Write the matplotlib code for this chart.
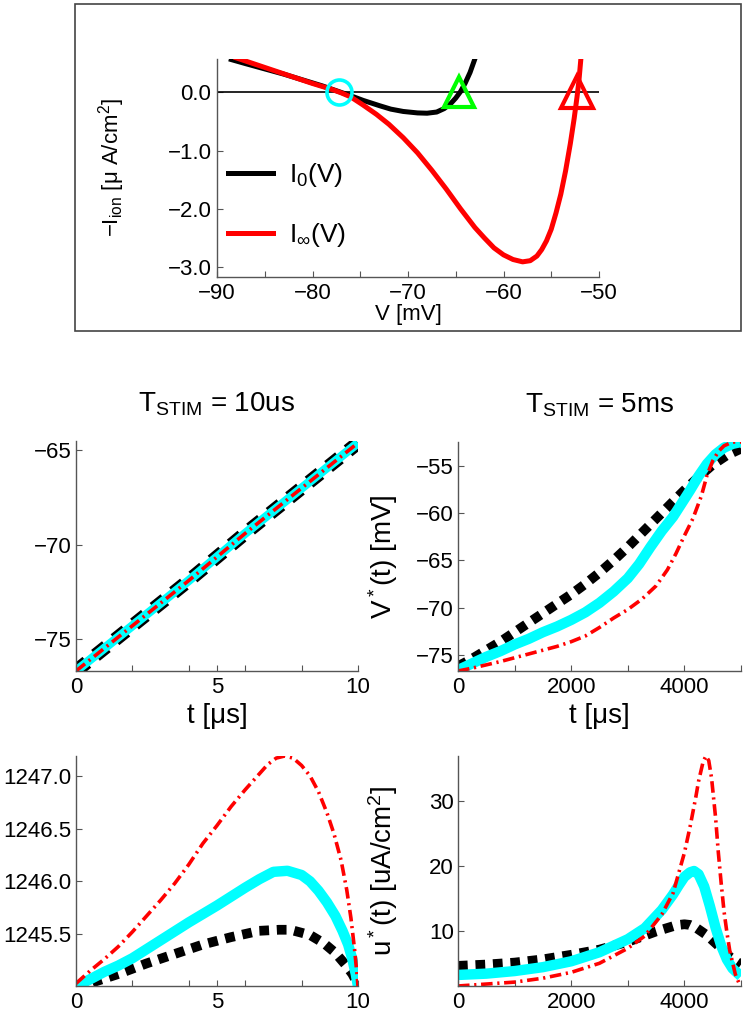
import matplotlib
matplotlib.use("Agg")
import matplotlib.pyplot as plt
import matplotlib.ticker as mticker
from matplotlib.patches import Rectangle

plt.rcParams["font.family"] = ["Liberation Sans", "DejaVu Sans"]
plt.rcParams["mathtext.fontset"] = "custom"
plt.rcParams["mathtext.rm"] = "Liberation Sans"
plt.rcParams["mathtext.it"] = "Liberation Sans:italic"
plt.rcParams["mathtext.bf"] = "Liberation Sans:bold"

# --- top panel: I-V curves ---
v_i0 = [-88.5, -87, -85, -83, -81, -79, -77.4, -76, -74.7, -73, -71.8, -70.5,
        -69, -68, -67, -66.2, -65.5, -65, -64.5, -64, -63.5, -63.0]
i_i0 = [0.56, 0.49, 0.40, 0.31, 0.21, 0.11, 0.02, -0.06, -0.14, -0.23, -0.29, -0.33,
        -0.355, -0.36, -0.34, -0.28, -0.19, -0.10, 0.01, 0.16, 0.34, 0.57]
v_iinf = [-88.0, -86, -84, -82, -80, -78, -77, -76, -74.7, -73.3, -72, -70.5, -69,
          -67.5, -66, -64.5, -63, -62, -61, -60, -59, -58, -57.2, -56.5, -56, -55.5,
          -55, -54.5, -54, -53.5, -53.0, -52.6, -52.3, -52.1, -51.9]
i_iinf = [0.59, 0.48, 0.37, 0.26, 0.15, 0.05, -0.01, -0.08, -0.22, -0.38, -0.55, -0.78,
          -1.04, -1.34, -1.66, -2.0, -2.32, -2.5, -2.67, -2.79, -2.87, -2.91, -2.89,
          -2.81, -2.7, -2.55, -2.35, -2.07, -1.75, -1.35, -0.88, -0.45, -0.08, 0.2, 0.57]
v_rest = -77.2
v_thr_i0 = -64.7
v_thr_iinf = -52.3

# --- middle row: V*(t) ---
t_short = [0, 2, 4, 6, 8, 10]
v_short_black = [-76.7, -74.3, -71.9, -69.4, -67.0, -64.6]
v_short_cyan = [-76.7, -74.3, -71.9, -69.4, -67.0, -64.6]
v_short_red = [-76.7, -74.3, -71.9, -69.4, -67.0, -64.6]

t_long_black = [0, 250, 500, 750, 1000, 1250, 1500, 1750, 2000, 2250, 2500, 2750, 3000,
                3250, 3500, 3750, 4000, 4250, 4500, 4750, 5000]
v_long_black = [-76.2, -75.4, -74.5, -73.6, -72.6, -71.6, -70.6, -69.6, -68.6, -67.5,
                -66.3, -65.0, -63.6, -62.1, -60.6, -59.1, -57.6, -56.2, -54.9, -53.9,
                -53.2]
t_long_cyan = [0, 250, 500, 750, 1000, 1250, 1500, 1750, 2000, 2250, 2500, 2750, 3000,
               3200, 3400, 3600, 3800, 3950, 4100, 4250, 4400, 4550, 4700, 4850, 5000]
v_long_cyan = [-76.6, -75.9, -75.2, -74.6, -73.9, -73.3, -72.6, -72.0, -71.3, -70.5,
               -69.5, -68.3, -66.9, -65.4, -63.6, -61.9, -60.4, -59.0, -57.6, -56.1,
               -54.8, -53.8, -53.1, -52.7, -52.5]
t_long_red = [0, 250, 500, 750, 1000, 1250, 1500, 1750, 2000, 2250, 2500, 2750, 3000,
              3250, 3500, 3700, 3850, 4000, 4150, 4300, 4400, 4500, 4600, 4700, 4850, 5000]
v_long_red = [-76.7, -76.4, -76.05, -75.7, -75.3, -74.9, -74.5, -74.1, -73.6, -73.0,
              -72.1, -71.1, -70.2, -69.1, -67.7, -66.0, -64.3, -62.4, -60.6, -58.2,
              -56.0, -54.5, -53.5, -52.9, -52.5, -52.5]

# --- bottom row: u*(t) ---
t_u_black = [0, 0.7, 1.5, 2.5, 3.5, 4.5, 5.5, 6.5, 7.2, 7.6, 8.3, 8.8, 9.2, 9.55, 9.8, 10]
u_short_black = [1244.98, 1245.05, 1245.12, 1245.22, 1245.31, 1245.40, 1245.47, 1245.53,
                 1245.54, 1245.54, 1245.49, 1245.41, 1245.32, 1245.21, 1245.12, 1245.02]
t_u_cyan = [0, 0.5, 1, 1.5, 2, 3, 4, 5, 6, 6.5, 7, 7.5, 8, 8.3, 8.6, 8.9, 9.2, 9.45,
            9.65, 9.8, 9.92, 10]
u_short_cyan = [1245.0, 1245.07, 1245.14, 1245.2, 1245.27, 1245.44, 1245.61, 1245.77,
                1245.94, 1246.02, 1246.09, 1246.1, 1246.06, 1246.0, 1245.91, 1245.8,
                1245.67, 1245.53, 1245.4, 1245.26, 1245.12, 1245.0]
t_u_red = [0, 0.5, 1, 1.5, 2, 2.5, 3, 3.5, 4, 4.5, 5, 5.5, 6, 6.5, 6.8, 7.1, 7.4, 7.7,
           8, 8.3, 8.6, 8.9, 9.15, 9.4, 9.6, 9.75, 9.88, 9.97, 10]
u_short_red = [1245.03, 1245.15, 1245.26, 1245.38, 1245.52, 1245.67, 1245.82, 1245.98,
               1246.16, 1246.36, 1246.53, 1246.71, 1246.87, 1247.02, 1247.11, 1247.17,
               1247.19, 1247.17, 1247.10, 1247.0, 1246.85, 1246.65, 1246.45, 1246.2,
               1245.92, 1245.65, 1245.35, 1245.1, 1245.0]

t_ul_black = [0, 500, 1000, 1500, 2000, 2500, 3000, 3500, 3800, 3900, 4000, 4100, 4200,
              4400, 4600, 4800, 5000]
u_long_black = [4.6, 4.8, 5.1, 5.6, 6.3, 7.1, 8.3, 9.9, 10.7, 10.9, 11.0, 10.9, 10.5,
                9.3, 7.7, 6.0, 4.8]
t_ul_cyan = [0, 500, 1000, 1500, 2000, 2500, 3000, 3300, 3600, 3800, 3900, 4000, 4100,
             4170, 4250, 4350, 4450, 4550, 4650, 4750, 4850, 5000]
u_long_cyan = [3.2, 3.4, 3.8, 4.4, 5.3, 6.7, 8.7, 10.4, 13.2, 15.6, 17.0, 18.3, 19.0,
               19.2, 18.7, 16.8, 13.8, 10.5, 7.7, 5.6, 4.2, 3.0]
t_ul_red = [0, 500, 1000, 1500, 2000, 2500, 3000, 3300, 3600, 3800, 4000, 4100, 4200,
            4250, 4330, 4380, 4430, 4480, 4550, 4600, 4650, 4700, 4750, 4800, 4900, 5000]
u_long_red = [1.5, 1.8, 2.1, 2.7, 3.6, 5.0, 7.3, 9.2, 12.5, 15.8, 22.0, 26.0, 30.5,
              33.0, 36.0, 36.9, 36.2, 33.5, 27.5, 22.0, 17.3, 13.0, 9.8, 7.0, 3.3, 1.2]

SPINE = "#555555"
W, H = 745, 1015


def px_axes(fig, left, top, right, bottom):
    return fig.add_axes([left / W, 1 - bottom / H, (right - left) / W, (bottom - top) / H])


def style(ax, pad_x=4, pad_y=3):
    for s in ["top", "right"]:
        ax.spines[s].set_visible(False)
    for s in ["left", "bottom"]:
        ax.spines[s].set_color(SPINE)
        ax.spines[s].set_linewidth(1.0)
    ax.tick_params(which="both", direction="in", length=4, width=0.8, color=SPINE,
                   labelsize=16)
    ax.tick_params(axis="x", which="both", pad=pad_x)
    ax.tick_params(axis="y", which="both", pad=pad_y)


def minus_fmt(fmt):
    return mticker.FuncFormatter(lambda v, p: (fmt % v).replace("-", "\u2212"))


def plot_triplet(ax, tb, yb, tc, yc, tr, yr, lw_b=7, lw_c=7.5, lw_r=2.6):
    ax.plot(tb, yb, color="black", lw=lw_b, dashes=(1.0, 0.8), solid_joinstyle="round")
    ax.plot(tc, yc, color="#00ffff", lw=lw_c, solid_capstyle="butt",
            solid_joinstyle="round")
    ax.plot(tr, yr, color="red", lw=lw_r, dashes=(3.2, 1.3, 0.6, 1.3))


fig = plt.figure(figsize=(W / 100, H / 100), dpi=100)

fig.patches.append(Rectangle((75 / W, 1 - 331 / H), 666 / W, 327 / H,
                             transform=fig.transFigure, fill=False,
                             ec="#444444", lw=1.2))

# top panel
ax0 = px_axes(fig, 217, 59, 599, 277)
ax0.axhline(0, color="black", lw=1.2)
ax0.plot(v_i0, i_i0, color="black", lw=3.6, label="I$_0$(V)", solid_joinstyle="round")
ax0.plot(v_iinf, i_iinf, color="red", lw=3.6, label="I$_\\infty$(V)",
         solid_joinstyle="round")
ax0.plot([v_rest], [0], "o", ms=18, mfc="none", mec="#00ffff", mew=2.6, clip_on=False)
ax0.plot([v_thr_i0], [0], "^", ms=21, mfc="none", mec="#00ff00", mew=3, clip_on=False)
ax0.plot([v_thr_iinf], [0], "^", ms=23, mfc="none", mec="red", mew=3, clip_on=False)
ax0.set_xlim(-90, -50)
ax0.set_ylim(-3.17, 0.57)
ax0.set_xticks([-90, -80, -70, -60, -50])
ax0.set_xticks([-85, -75, -65, -55], minor=True)
ax0.set_yticks([-3, -2, -1, 0])
ax0.yaxis.set_major_formatter(minus_fmt("%.1f"))
ax0.xaxis.set_major_formatter(minus_fmt("%d"))
style(ax0, pad_x=4, pad_y=4)
ax0.set_xlabel("V [mV]", fontsize=16)
ax0.xaxis.set_label_coords(0.5, -0.125)
ax0.set_ylabel("\u2212I$_{\\mathrm{ion}}$ [\u03bc A/cm$^2$]", fontsize=16)
ax0.yaxis.set_label_coords(-0.236, 0.5)
leg = ax0.legend(loc="upper left", bbox_to_anchor=(0.03, 0.53), frameon=False,
                 fontsize=19, handlelength=1.7, handletextpad=0.6,
                 labelspacing=1.2, borderaxespad=0, borderpad=0)

# middle row
ax1 = px_axes(fig, 76, 441, 358, 671)
plot_triplet(ax1, t_short, v_short_black, t_short, v_short_cyan, t_short, v_short_red,
             lw_b=10, lw_c=6.5)
ax1.set_xlim(0, 10)
ax1.set_ylim(-76.7, -64.5)
ax1.set_yticks([-75, -70, -65])
ax1.yaxis.set_major_formatter(minus_fmt("%d"))
ax1.set_xticks([0, 5, 10])
ax1.set_xticks([2, 4, 6, 8], minor=True)
style(ax1)
ax1.set_title("T$_{\\mathrm{STIM}}$ = 10us", fontsize=20, pad=21)
ax1.set_xlabel("t [\u03bcs]", fontsize=20)
ax1.xaxis.set_label_coords(0.5, -0.14)

ax2 = px_axes(fig, 458, 442, 741, 671)
plot_triplet(ax2, t_long_black, v_long_black, t_long_cyan, v_long_cyan,
             t_long_red, v_long_red)
ax2.set_xlim(0, 5000)
ax2.set_ylim(-76.7, -52.5)
ax2.set_yticks([-75, -70, -65, -60, -55])
ax2.yaxis.set_major_formatter(minus_fmt("%d"))
ax2.set_xticks([0, 2000, 4000])
ax2.set_xticks([1000, 3000, 5000], minor=True)
style(ax2)
ax2.set_title("T$_{\\mathrm{STIM}}$ = 5ms", fontsize=20, pad=21)
ax2.set_xlabel("t [\u03bcs]", fontsize=20)
ax2.xaxis.set_label_coords(0.5, -0.14)
ax2.set_ylabel("V$^*$(t) [mV]", fontsize=20)
ax2.yaxis.set_label_coords(-0.205, 0.5)

# bottom row
ax3 = px_axes(fig, 76, 756, 358, 986)
plot_triplet(ax3, t_u_black, u_short_black, t_u_cyan, u_short_cyan, t_u_red, u_short_red)
ax3.set_xlim(0, 10)
ax3.set_ylim(1245.006, 1247.19)
ax3.set_yticks([1245.5, 1246.0, 1246.5, 1247.0])
ax3.yaxis.set_major_formatter(minus_fmt("%.1f"))
ax3.set_xticks([0, 5, 10])
ax3.set_xticks([2, 4, 6, 8], minor=True)
style(ax3)

ax4 = px_axes(fig, 458, 756, 741, 986)
plot_triplet(ax4, t_ul_black, u_long_black, t_ul_cyan, u_long_cyan, t_ul_red, u_long_red)
ax4.set_xlim(0, 5000)
ax4.set_ylim(1.5, 36.9)
ax4.set_yticks([10, 20, 30])
ax4.set_xticks([0, 2000, 4000])
ax4.set_xticks([1000, 3000, 5000], minor=True)
style(ax4)
ax4.set_ylabel("u$^*$(t) [uA/cm$^2$]", fontsize=20)
ax4.yaxis.set_label_coords(-0.205, 0.5)

fig.savefig("out.png", dpi=100)
